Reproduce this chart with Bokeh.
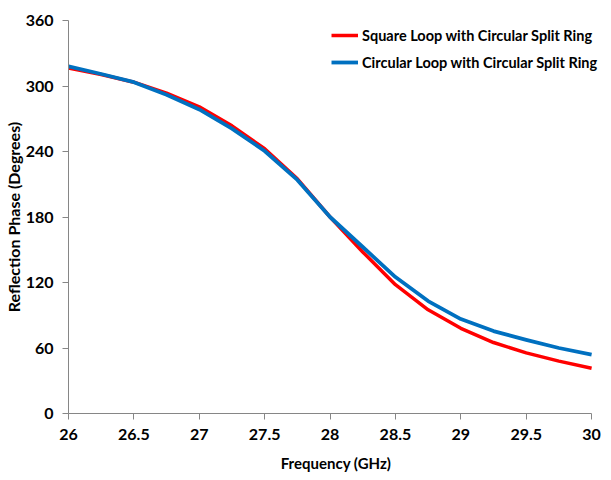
from bokeh.plotting import figure
from bokeh.models import FixedTicker, Legend, LegendItem, Range1d
from bokeh.embed import file_html
from bokeh.resources import INLINE

freq = [26, 26.25, 26.5, 26.75, 27, 27.25, 27.5, 27.75, 28, 28.25, 28.5, 28.75, 29, 29.25, 29.5, 29.75, 30]
square_loop = [316.5, 310.5, 303.5, 293.5, 281, 263.5, 242.5, 215, 180, 148, 118, 95, 78, 65, 55.5, 48, 41.5]
circular_loop = [318, 311, 303.5, 292, 278.5, 261, 240.5, 214, 180, 152.5, 125, 103, 86.5, 75.5, 67.5, 60, 54]
x_ticks = [26, 26.5, 27, 27.5, 28, 28.5, 29, 29.5, 30]
y_ticks = [0, 60, 120, 180, 240, 300, 360]
series_names = ["Square Loop with Circular Split Ring", "Circular Loop with Circular Split Ring"]

FONT = "Lato"

# frame runs to the right edge so the legend (which overhangs the axis end) is not clipped
p = figure(width=603, height=478, output_backend="svg", toolbar_location=None,
           x_range=Range1d(26, 30.091), y_range=Range1d(0, 360),
           min_border_left=62, min_border_right=0, min_border_top=20, min_border_bottom=65)
p.outline_line_color = None
p.xgrid.visible = False
p.ygrid.visible = False

r1 = p.line(freq, square_loop, line_color="#FF0000", line_width=3.5, line_join="round")
r2 = p.line(freq, circular_loop, line_color="#0070C0", line_width=3.8, line_join="round")

for ax in (p.xaxis[0], p.yaxis[0]):
    ax.axis_line_color = "#868686"
    ax.major_tick_line_color = "#868686"
    ax.major_tick_out = 6
    ax.major_tick_in = 0
    ax.minor_tick_line_color = None
    ax.major_label_text_font = FONT
    ax.major_label_text_font_style = "bold"
    ax.major_label_text_font_size = "16px"
    ax.major_label_text_color = "black"
    ax.axis_label_text_font = FONT
    ax.axis_label_text_font_style = "bold"
    ax.axis_label_text_color = "black"

p.xaxis.bounds = (26, 30)
p.xaxis.ticker = FixedTicker(ticks=x_ticks)
p.yaxis.ticker = FixedTicker(ticks=y_ticks)
p.xaxis.axis_label = "Frequency (GHz)"
p.yaxis.axis_label = "Reflection Phase (Degrees)"
p.xaxis.axis_label_text_font_size = "15px"
p.yaxis.axis_label_text_font_size = "16px"
p.xaxis.major_label_standoff = 9
p.xaxis.axis_label_standoff = 11
p.yaxis.major_label_standoff = 9
p.yaxis.axis_label_standoff = 0

legend = Legend(items=[LegendItem(label=series_names[0], renderers=[r1]),
                       LegendItem(label=series_names[1], renderers=[r2])],
                location=(263, 341))
legend.border_line_color = None
legend.background_fill_alpha = 0
legend.padding = 0
legend.margin = 0
legend.glyph_width = 27
legend.glyph_height = 20
legend.label_height = 20
legend.spacing = 7
legend.label_standoff = 4
legend.label_text_font = FONT
legend.label_text_font_style = "bold"
legend.label_text_font_size = "14.5px"
legend.label_text_color = "black"
p.add_layout(legend)

open("out.html", "w").write(file_html(p, INLINE))
